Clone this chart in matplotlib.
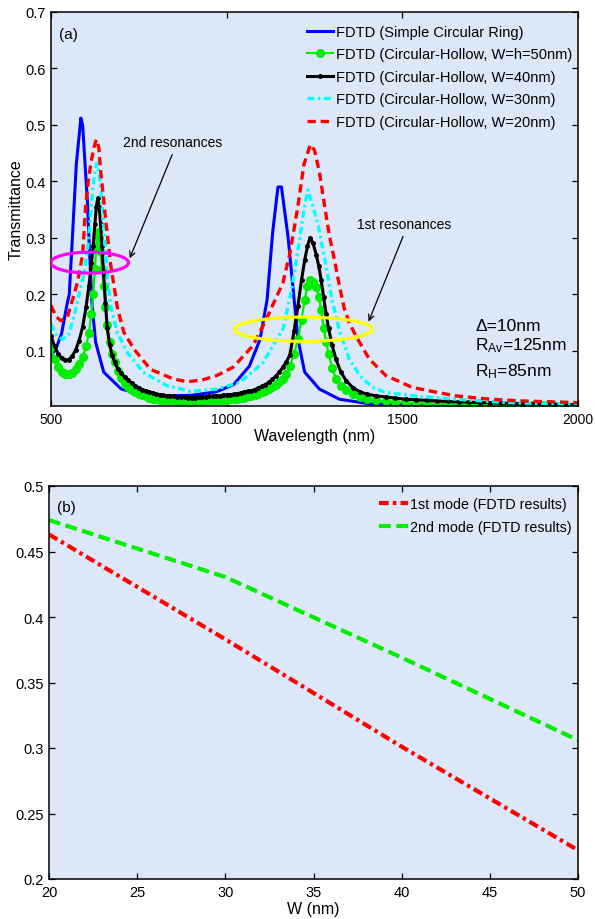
import matplotlib
matplotlib.use("Agg")
import matplotlib.pyplot as plt
from matplotlib.patches import Ellipse

plt.rcParams['font.family'] = ['Liberation Sans', 'DejaVu Sans']
plt.rcParams['mathtext.fontset'] = 'custom'
plt.rcParams['mathtext.rm'] = 'Liberation Sans'
plt.rcParams['mathtext.it'] = 'Liberation Sans'
plt.rcParams['lines.scale_dashes'] = False

BG = '#dce8f8'

# ---- panel (a): transmittance spectra ----
blue_wl = [500, 515, 530, 545, 552, 560, 572, 585, 590, 595, 604, 610, 617, 627, 650, 700, 750, 830,
           900, 970, 1020, 1065, 1095, 1115, 1131, 1146, 1156, 1175, 1189, 1203, 1222, 1264, 1321,
           1406, 1600, 2000]
blue_t = [0.09, 0.105, 0.13, 0.18, 0.20, 0.29, 0.43, 0.512, 0.50, 0.45, 0.36, 0.27, 0.18, 0.115,
          0.062, 0.032, 0.024, 0.020, 0.021, 0.027, 0.040, 0.073, 0.12, 0.19, 0.31, 0.39, 0.39,
          0.30, 0.21, 0.12, 0.062, 0.032, 0.014, 0.006, 0.004, 0.003]

# W=h=50nm (green) and W=40nm (black) share the same sampling
wl_fine = [500, 510, 520, 530, 540, 550, 560, 570, 580, 590, 600, 608, 615, 620, 625, 629, 633, 637,
           641, 645, 650, 655, 660, 667, 674, 681,
           690, 700, 710, 720, 730, 740, 750, 760, 770, 780, 790, 800, 810, 820, 830, 840, 850,
           860, 870, 880, 890, 900, 910, 920, 930, 940, 950, 960, 970, 980, 990, 1000, 1010,
           1020, 1030, 1040, 1050, 1060, 1070, 1080, 1090, 1100, 1110, 1120, 1130, 1140, 1150,
           1160, 1170, 1180, 1192,
           1203, 1213, 1222, 1230, 1237, 1246, 1255, 1262, 1269, 1276, 1283, 1290, 1300, 1311, 1325,
           1340, 1360, 1380, 1400, 1425, 1453, 1480, 1510, 1540, 1570, 1600, 1630, 1660, 1690, 1720,
           1750, 1780, 1810, 1840, 1870, 1900, 1930, 1960, 2000]
green_t = [0.106, 0.085, 0.071, 0.063, 0.059, 0.058, 0.061, 0.067, 0.076, 0.088, 0.108, 0.132,
           0.165, 0.200, 0.245, 0.285, 0.310, 0.300, 0.275, 0.245, 0.215, 0.178, 0.145, 0.115,
           0.095, 0.080,
           0.064, 0.052, 0.042, 0.035, 0.030, 0.026, 0.023, 0.021, 0.019, 0.017, 0.015, 0.014,
           0.013, 0.013, 0.012, 0.012, 0.012, 0.011, 0.011, 0.011, 0.011, 0.011, 0.011, 0.011,
           0.011, 0.012, 0.012, 0.012, 0.012, 0.013, 0.013, 0.013, 0.014, 0.014, 0.015, 0.016,
           0.017, 0.019, 0.020, 0.022, 0.024, 0.026, 0.029, 0.032, 0.035, 0.039, 0.044, 0.050,
           0.058, 0.073, 0.095,
           0.120, 0.155, 0.190, 0.215, 0.225, 0.222, 0.213, 0.195,
           0.172, 0.140, 0.115, 0.095, 0.070, 0.050, 0.038, 0.030, 0.023, 0.018, 0.015, 0.012,
           0.010, 0.009, 0.008, 0.007, 0.007, 0.006, 0.006, 0.005, 0.005, 0.005, 0.004, 0.004,
           0.004, 0.004, 0.004, 0.003, 0.003, 0.003, 0.003]
black_t = [0.126, 0.108, 0.095, 0.087, 0.083, 0.084, 0.090, 0.101, 0.118, 0.142, 0.178, 0.215,
           0.255, 0.285, 0.325, 0.355, 0.370, 0.355, 0.325, 0.285, 0.235, 0.185, 0.140, 0.110,
           0.092, 0.080,
           0.068, 0.060, 0.053, 0.048, 0.043, 0.038, 0.034, 0.031, 0.029, 0.027, 0.025, 0.023,
           0.022, 0.021, 0.020, 0.019, 0.019, 0.018, 0.018, 0.018, 0.017, 0.017, 0.017, 0.018,
           0.018, 0.018, 0.019, 0.019, 0.020, 0.020, 0.021, 0.022, 0.022, 0.023, 0.024, 0.025,
           0.027, 0.028, 0.029, 0.031, 0.034, 0.037, 0.040, 0.044, 0.049, 0.055, 0.062, 0.071,
           0.080, 0.093, 0.135,
           0.180, 0.225, 0.260, 0.285, 0.300, 0.290, 0.270, 0.250,
           0.225, 0.195, 0.165, 0.140, 0.110, 0.085, 0.062, 0.047, 0.034, 0.027, 0.023, 0.020,
           0.018, 0.016, 0.014, 0.013, 0.012, 0.011, 0.010, 0.009, 0.009, 0.008, 0.008, 0.007,
           0.007, 0.006, 0.006, 0.005, 0.005, 0.005, 0.004]

cyan_wl = [500, 515, 533, 550, 565, 580, 595, 606, 615, 623, 630, 637, 644, 651, 660, 670, 689, 717,
           764, 830, 896, 972, 1038, 1104, 1160, 1184, 1208, 1220, 1231, 1259, 1283, 1300, 1321,
           1349, 1380, 1415, 1453, 1547, 1651, 1800, 2000]
cyan_t = [0.147, 0.128, 0.12, 0.128, 0.16, 0.20, 0.24, 0.29, 0.36, 0.41, 0.432, 0.415, 0.37, 0.31,
          0.235, 0.178, 0.132, 0.097, 0.061, 0.038, 0.028, 0.032, 0.044, 0.079, 0.138, 0.205,
          0.298, 0.35, 0.385, 0.327, 0.25, 0.19, 0.135, 0.085, 0.055, 0.035, 0.026, 0.019, 0.014,
          0.008, 0.005]

red_wl = [500, 515, 528, 547, 561, 575, 590, 599, 606, 613, 622, 629, 636, 641, 648, 656, 670, 689,
          707, 736, 783, 848, 887, 930, 972, 1019, 1075, 1113, 1160, 1179, 1189, 1203, 1220, 1238,
          1250, 1264, 1278, 1292, 1307, 1321, 1335, 1350, 1368, 1406, 1453, 1528, 1576, 1651, 1750,
          1840, 2000]
red_t = [0.18, 0.16, 0.153, 0.16, 0.19, 0.22, 0.27, 0.36, 0.40, 0.43, 0.46, 0.474, 0.46, 0.42,
         0.38, 0.33, 0.252, 0.176, 0.133, 0.103, 0.067, 0.050, 0.045, 0.048, 0.056, 0.071, 0.109,
         0.156, 0.22, 0.27, 0.305, 0.357, 0.43, 0.465, 0.455, 0.416, 0.36, 0.305, 0.26, 0.215,
         0.174, 0.148, 0.126, 0.085, 0.056, 0.035, 0.029, 0.020, 0.014, 0.011, 0.008]

labels_a = ['FDTD (Simple Circular Ring)',
            'FDTD (Circular-Hollow, W=h=50nm)',
            'FDTD (Circular-Hollow, W=40nm)',
            'FDTD (Circular-Hollow, W=30nm)',
            'FDTD (Circular-Hollow, W=20nm)']
xticks_a = [500, 1000, 1500, 2000]
yticks_a = [0.1, 0.2, 0.3, 0.4, 0.5, 0.6, 0.7]
yticklabels_a = ['0.1', '0.2', '0.3', '0.4', '0.5', '0.6', '0.7']

# ---- panel (b): resonance vs W ----
w_nm = [20, 30, 40, 50]
mode1 = [0.463, 0.383, 0.301, 0.222]
mode2 = [0.474, 0.4305, 0.369, 0.306]
labels_b = ['1st mode (FDTD results)', '2nd mode (FDTD results)']
xticks_b = [20, 25, 30, 35, 40, 45, 50]
yticks_b = [0.2, 0.25, 0.3, 0.35, 0.4, 0.45, 0.5]
yticklabels_b = ['0.2', '0.25', '0.3', '0.35', '0.4', '0.45', '0.5']


def style_axes(ax):
    ax.set_facecolor(BG)
    for s in ax.spines.values():
        s.set_linewidth(1.1)
    ax.tick_params(direction='in', top=True, right=True, length=4, width=0.9,
                   labelsize=10.5, pad=4)


fig = plt.figure(figsize=(5.95, 9.2), dpi=100)

ax1 = fig.add_axes([51 / 595, 1 - 407 / 920, 527 / 595, 394 / 920])
style_axes(ax1)
ax1.plot(blue_wl, blue_t, color='#0000ff', lw=2.2, label=labels_a[0])
ax1.plot(wl_fine, green_t, color='#00ee00', lw=1.6, marker='o', ms=5.5, label=labels_a[1])
ax1.plot(wl_fine, black_t, color='black', lw=2.2, marker='.', ms=5, label=labels_a[2])
ax1.plot(cyan_wl, cyan_t, color='#00ffff', lw=2.4, ls=(0, (5, 2.5, 1.8, 2.5)), label=labels_a[3])
ax1.plot(red_wl, red_t, color='#ff0000', lw=2.4, ls=(0, (6, 3.5)), label=labels_a[4])
ax1.set_xlim(500, 2000)
ax1.set_ylim(0.002, 0.7)
ax1.set_xticks(xticks_a)
ax1.set_yticks(yticks_a)
ax1.set_yticklabels(yticklabels_a)
ax1.tick_params(axis='x', labelsize=10)
ax1.set_xlabel('Wavelength (nm)', fontsize=11.5)
ax1.set_ylabel('Transmittance', fontsize=11.5)
ax1.xaxis.set_label_coords(0.5, -0.055)
ax1.yaxis.set_label_coords(-0.052, 0.5)

ax1.legend(loc='upper left', bbox_to_anchor=(307 / 595, 1 - 26 / 920),
           bbox_transform=fig.transFigure, frameon=False, fontsize=10.5,
           handlelength=1.8, handletextpad=0.2, labelspacing=0.58,
           borderpad=0, borderaxespad=0)

ax1.text(523, 0.661, '(a)', fontsize=11, ha='left', va='center')
ax1.text(845, 0.47, '2nd resonances', fontsize=10, ha='center', va='center')
ax1.annotate('', xy=(721, 0.259), xytext=(848, 0.452),
             arrowprops=dict(arrowstyle='->', color='black', lw=0.9))
ax1.text(1505, 0.324, '1st resonances', fontsize=10, ha='center', va='center')
ax1.annotate('', xy=(1401, 0.147), xytext=(1505, 0.307),
             arrowprops=dict(arrowstyle='->', color='black', lw=0.9))
ax1.add_patch(Ellipse((610, 0.256), 221, 0.037, fill=False, ec='#ff00ff', lw=2.3, zorder=5))
ax1.add_patch(Ellipse((1219, 0.138), 391, 0.043, fill=False, ec='#ffff00', lw=2.3, zorder=5))
ax1.text(1708, 0.137, '\u0394=10nm', fontsize=12.5, ha='left', va='baseline')
ax1.text(1708, 0.103, r'R$_{\mathrm{Av}}$=125nm', fontsize=12.5, ha='left', va='baseline')
ax1.text(1708, 0.057, r'R$_{\mathrm{H}}$=85nm', fontsize=12.5, ha='left', va='baseline')

ax2 = fig.add_axes([49 / 595, 1 - 880 / 920, 529 / 595, 393 / 920])
style_axes(ax2)
ax2.plot(w_nm, mode1, color='#ff0000', lw=3, ls=(0, (7, 3, 2.5, 3)), label=labels_b[0])
ax2.plot(w_nm, mode2, color='#00ee00', lw=3, ls=(0, (8.5, 4)), label=labels_b[1])
ax2.set_xlim(20, 50)
ax2.set_ylim(0.2, 0.5)
ax2.set_xticks(xticks_b)
ax2.set_yticks(yticks_b)
ax2.set_yticklabels(yticklabels_b)
ax2.set_xlabel('W (nm)', fontsize=11.5)
ax2.xaxis.set_label_coords(0.5, -0.055)
ax2.legend(loc='upper left', bbox_to_anchor=(379 / 595, 1 - 498 / 920),
           bbox_transform=fig.transFigure, frameon=False, fontsize=10.3,
           handlelength=2.0, handletextpad=0.2, labelspacing=0.66,
           borderpad=0, borderaxespad=0)
ax2.text(20.45, 0.484, '(b)', fontsize=11, ha='left', va='center')

fig.savefig('out.png', dpi=100)
